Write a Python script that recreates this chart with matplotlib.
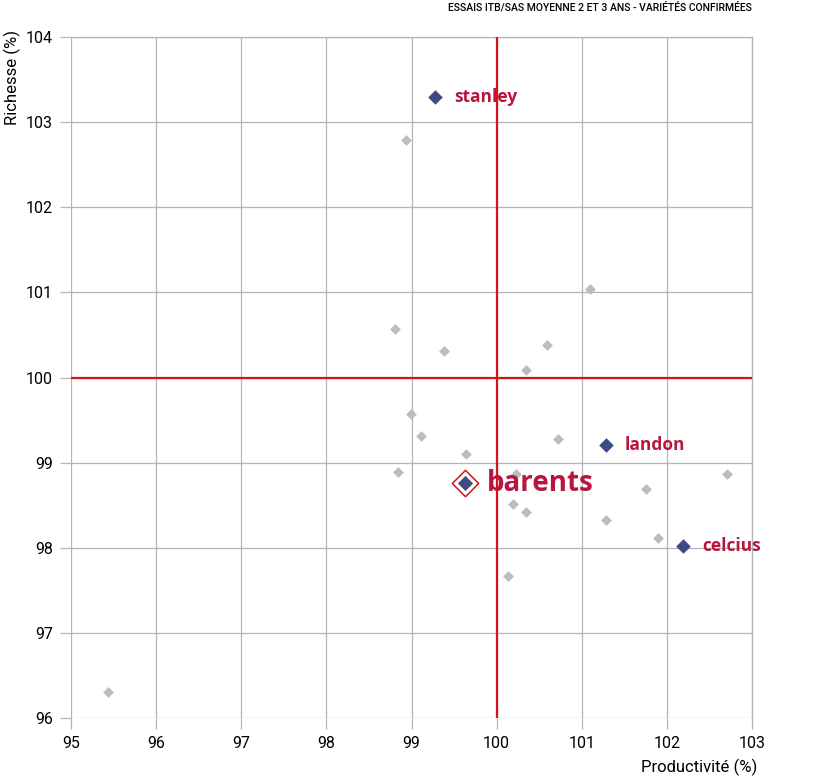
import numpy as np
import matplotlib.pyplot as plt

plt.rcParams['font.family'] = ['Roboto', 'DejaVu Sans']

# other varieties (grey)
other_x = [95.43, 98.93, 101.10, 98.81, 99.38, 100.59, 100.34, 98.99, 99.11, 100.72,
           99.64, 98.84, 100.23, 100.19, 100.35, 101.76, 102.71, 101.29, 101.89, 100.13]
other_y = [96.30, 102.79, 101.04, 100.57, 100.31, 100.38, 100.09, 99.57, 99.31, 99.28,
           99.10, 98.89, 98.87, 98.51, 98.42, 98.69, 98.87, 98.33, 98.11, 97.67]

# highlighted varieties
named = ["stanley", "landon", "celcius"]
named_x = [99.28, 101.28, 102.19]
named_y = [103.30, 99.21, 98.02]

focus = "barents"
focus_x = 99.63
focus_y = 98.76

grey = "#bcbcbc"
blue = "#3e4a82"
crimson = "#b8163f"
red = "#d4141c"

fig = plt.figure(figsize=(8.25, 7.78), dpi=100)
ax = fig.add_axes([0.0861, 0.0771, 0.8254, 0.8753])

ax.scatter(other_x, other_y, marker="D", s=30, color=grey, linewidths=0, zorder=3)
ax.scatter(named_x, named_y, marker="D", s=55, color=blue, linewidths=0, zorder=3)
for name, x, y in zip(named, named_x, named_y):
    ax.text(x + 0.22, y, name, color=crimson, fontsize=12.5, fontweight="bold",
            family=["Open Sans", "DejaVu Sans"], va="center", ha="left", zorder=4)

ax.scatter([focus_x], [focus_y], marker="D", s=180, facecolor="white",
           edgecolor=red, linewidths=1.1, zorder=3)
ax.scatter([focus_x], [focus_y], marker="D", s=60, color=blue, linewidths=0, zorder=4)
ax.text(focus_x + 0.26, focus_y + 0.0, focus, color=crimson, fontsize=20, fontweight="bold",
        family=["Open Sans", "DejaVu Sans"], va="center", ha="left", zorder=4)

ax.axvline(100, color=red, lw=1.6, zorder=5)
ax.axhline(100, color=red, lw=1.6, zorder=5)

ax.set_xlim(95, 103)
ax.set_ylim(96, 104)
ax.set_xticks(np.arange(95, 104, 1))
ax.set_yticks(np.arange(96, 105, 1))
ax.grid(True, color="#b4b4b4", lw=0.9, zorder=0)
ax.set_axisbelow(True)
for s in ax.spines.values():
    s.set_color("#b4b4b4")
    s.set_linewidth(0.9)
ax.spines["left"].set_visible(False)
ax.spines["bottom"].set_visible(False)
ax.tick_params(colors="#b4b4b4", labelcolor="black", labelsize=11.5, length=8, width=0.9,
               pad=5)

fig.text(757 / 825, 1 - 767 / 778, "Productivité (%)", fontsize=12, ha="right", va="center")
fig.text(12 / 825, 1 - 30 / 778, "Richesse (%)", fontsize=12, ha="center", va="top",
         rotation=90)

fig.text(0.9115, 0.997, "ESSAIS ITB/SAS MOYENNE 2 ET 3 ANS - VARIÉTÉS CONFIRMÉES",
         fontsize=7.5, fontweight="medium", ha="right", va="top")

fig.savefig("out.png", dpi=100)
